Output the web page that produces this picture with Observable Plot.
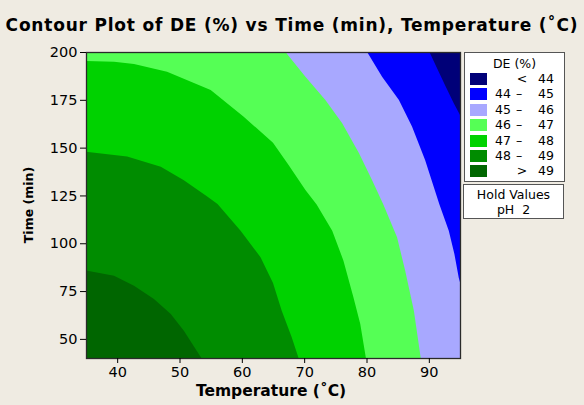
<!DOCTYPE html>
<html>
<head>
<meta charset="utf-8">
<script src="https://cdn.jsdelivr.net/npm/d3@7"></script>
<script src="https://cdn.jsdelivr.net/npm/@observablehq/plot@0.6"></script>
<style>
  html, body { margin: 0; padding: 0; background: #EFEBE2; }
  #wrap { position: relative; width: 584px; height: 405px; overflow: hidden; font-family: "DejaVu Sans", Verdana, sans-serif; color: #000; }
  #title { position: absolute; left: 0; top: 15px; width: 584px; text-align: center; font-weight: bold; font-size: 17px; letter-spacing: 0.8px; line-height: 20px; white-space: nowrap; }
  #chart { position: absolute; left: 0; top: 40px; }
  #ylab { position: absolute; left: 28px; top: 205px; transform: translate(-50%, -50%) rotate(-90deg); font-weight: bold; font-size: 12.5px; white-space: nowrap; }
  #xlab { position: absolute; left: 271px; top: 391px; transform: translate(-50%, -50%); font-weight: bold; font-size: 15.5px; white-space: nowrap; }
  #legend { position: absolute; left: 464px; top: 52px; width: 99px; height: 128px; background: #fff; border: 1px solid #555; font-size: 12.5px; }
  #legend .hd { position: absolute; left: 0; width: 99px; top: 4px; text-align: center; line-height: 14px; }
  #legend .sw { position: absolute; left: 5px; width: 17px; height: 12px; }
  #legend .t { position: absolute; line-height: 14px; white-space: nowrap; }
  #hold { position: absolute; left: 463px; top: 184px; width: 99px; height: 33px; background: #fff; border: 1px solid #555; font-size: 12.5px; text-align: center; line-height: 15px; }
</style>
</head>
<body>
<div id="wrap">
  <div id="title"></div>
  <div id="chart"></div>
  <div id="ylab"></div>
  <div id="xlab"></div>
  <div id="legend"></div>
  <div id="hold"></div>
</div>
<script>
// ---- Data ----
const titleText = "Contour Plot of DE (%) vs Time (min), Temperature (˚C)";
const xLabel = "Temperature (˚C)";
const yLabel = "Time (min)";
const xDomain = [35, 95];
const yDomain = [40, 200];
const xTicks = [40, 50, 60, 70, 80, 90];
const yTicks = [50, 75, 100, 125, 150, 175, 200];

// contour lines: [Temperature, Time]
const c44 = [[90.1,200],[91.6,189.5],[92.7,181.9],[94.0,173.2],[95,167],[95,40]];
const c45 = [[80.1,200],[82.5,187.1],[85.2,174.9],[87.3,161],[89.4,143.5],[91.7,120.3],[93.2,106.6],[94.1,94.4],[94.8,82],[95,79.6],[95,40]];
const c46 = [[67.0,200],[70.2,187.1],[73.4,174.9],[76.1,162.7],[78.8,147],[80.9,133],[82.7,120.3],[84.9,103.1],[86.2,85.7],[87.6,64.7],[88.7,40]];
const c47 = [[35,195.3],[39.5,194.9],[42.7,193.7],[48.0,189.7],[55.0,180.1],[60.3,166.2],[65.0,152.5],[67.5,140.9],[70.2,127.8],[72.0,120.3],[74.5,106.6],[76.3,90.9],[77.9,71.7],[79.0,57.8],[79.9,40]];
const c48 = [[35,147.9],[41.6,145.3],[47.0,140],[50.7,133],[54.5,124.3],[56.1,120.5],[59.8,106.6],[63.0,92.7],[65.0,79.2],[66.4,64.7],[68.0,50.8],[69.1,40]];
const c49 = [[35,85.7],[39.5,83],[42.7,77.8],[45.9,70.9],[48.6,63],[50.7,54.3],[53.5,40]];

const levelLabels = [["", "<", "44"], ["44", "–", "45"], ["45", "–", "46"], ["46", "–", "47"], ["47", "–", "48"], ["48", "–", "49"], ["", ">", "49"]];
const levelColors = ["#000078", "#0000FF", "#A8A8FF", "#55FF55", "#00D200", "#008C00", "#006600"];
const legendTitle = "DE (%)";
const holdLines = ["Hold Values", "pH\u00a0\u00a02"];

// ---- Chart ----
const bands = [c44, c45, c46, c47, c48, c49];
const marks = [Plot.frame({fill: levelColors[0]})];
bands.forEach((pts, i) => {
  marks.push(Plot.areaX(pts, {
    y: d => d[1],
    x1: () => xDomain[0],
    x2: d => d[0],
    fill: levelColors[i + 1],
    curve: "linear"
  }));
});
marks.push(Plot.frame({stroke: "#2a2a2a", strokeWidth: 1.3}));
marks.push(Plot.axisX({ticks: xTicks, tickSize: 5, tickPadding: 3, label: null, tickFormat: d => String(d)}));
marks.push(Plot.axisY({ticks: yTicks, tickSize: 6, tickPadding: 3, label: null, tickFormat: d => String(d)}));

const chart = Plot.plot({
  width: 584,
  height: 365,
  marginTop: 12,
  marginLeft: 86,
  marginRight: 124,
  marginBottom: 47,
  x: {domain: xDomain},
  y: {domain: yDomain},
  style: {background: "transparent", fontSize: "14.5px", fontFamily: "DejaVu Sans", color: "#000"},
  marks
});
document.getElementById("chart").appendChild(chart);

document.getElementById("title").textContent = titleText;
document.getElementById("xlab").textContent = xLabel;
document.getElementById("ylab").textContent = yLabel;

// ---- Legend ----
const leg = document.getElementById("legend");
const hd = document.createElement("div");
hd.className = "hd"; hd.textContent = legendTitle; leg.appendChild(hd);
levelLabels.forEach((lab, i) => {
  const cy = 26 + i * 15.4;
  const sw = document.createElement("div");
  sw.className = "sw"; sw.style.top = (cy - 6) + "px"; sw.style.background = levelColors[i];
  leg.appendChild(sw);
  const a = document.createElement("div");
  a.className = "t"; a.style.left = "30px"; a.style.top = (cy - 7) + "px"; a.textContent = lab[0];
  leg.appendChild(a);
  const b = document.createElement("div");
  b.className = "t"; b.style.left = (lab[0] ? 54 : 57) + "px"; b.style.top = (cy - 7) + "px";
  b.style.transform = "translateX(-50%)"; b.textContent = lab[1];
  leg.appendChild(b);
  const c = document.createElement("div");
  c.className = "t"; c.style.left = "73px"; c.style.top = (cy - 7) + "px"; c.textContent = lab[2];
  leg.appendChild(c);
});
const hold = document.getElementById("hold");
hold.innerHTML = holdLines.map(s => `<div>${s}</div>`).join("");
hold.style.paddingTop = "2px";
hold.style.height = "31px";
</script>
</body>
</html>
